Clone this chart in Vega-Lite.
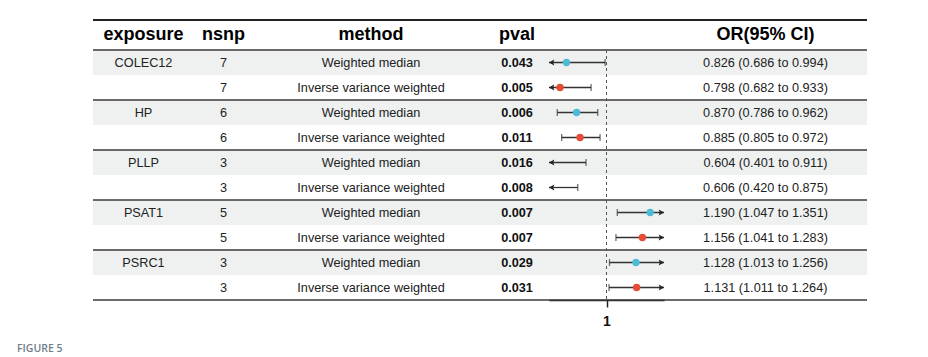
{
  "$schema": "https://vega.github.io/schema/vega-lite/v6.json",
  "background": "white",
  "padding": {"left": 17, "top": 19, "right": 0, "bottom": 0},
  "config": {"view": {"stroke": null}, "font": "Liberation Sans"},
  "title": {"text": "FIGURE 5", "orient": "bottom", "anchor": "start", "dx": -75, "offset": 16, "font": "Open Sans", "fontSize": 10.5, "fontWeight": 600, "color": "#6f7c8a"},
  "datasets": {
    "mr": [
      {"row": 1, "exposure": "COLEC12", "nsnp": 7, "method": "Weighted median", "pval": "0.043", "or": 0.826, "lo": 0.686, "hi": 0.994, "ci": "0.826 (0.686 to 0.994)"},
      {"row": 2, "exposure": "COLEC12", "nsnp": 7, "method": "Inverse variance weighted", "pval": "0.005", "or": 0.798, "lo": 0.682, "hi": 0.933, "ci": "0.798 (0.682 to 0.933)"},
      {"row": 3, "exposure": "HP", "nsnp": 6, "method": "Weighted median", "pval": "0.006", "or": 0.870, "lo": 0.786, "hi": 0.962, "ci": "0.870 (0.786 to 0.962)"},
      {"row": 4, "exposure": "HP", "nsnp": 6, "method": "Inverse variance weighted", "pval": "0.011", "or": 0.885, "lo": 0.805, "hi": 0.972, "ci": "0.885 (0.805 to 0.972)"},
      {"row": 5, "exposure": "PLLP", "nsnp": 3, "method": "Weighted median", "pval": "0.016", "or": 0.604, "lo": 0.401, "hi": 0.911, "ci": "0.604 (0.401 to 0.911)"},
      {"row": 6, "exposure": "PLLP", "nsnp": 3, "method": "Inverse variance weighted", "pval": "0.008", "or": 0.606, "lo": 0.420, "hi": 0.875, "ci": "0.606 (0.420 to 0.875)"},
      {"row": 7, "exposure": "PSAT1", "nsnp": 5, "method": "Weighted median", "pval": "0.007", "or": 1.190, "lo": 1.047, "hi": 1.351, "ci": "1.190 (1.047 to 1.351)"},
      {"row": 8, "exposure": "PSAT1", "nsnp": 5, "method": "Inverse variance weighted", "pval": "0.007", "or": 1.156, "lo": 1.041, "hi": 1.283, "ci": "1.156 (1.041 to 1.283)"},
      {"row": 9, "exposure": "PSRC1", "nsnp": 3, "method": "Weighted median", "pval": "0.029", "or": 1.128, "lo": 1.013, "hi": 1.256, "ci": "1.128 (1.013 to 1.256)"},
      {"row": 10, "exposure": "PSRC1", "nsnp": 3, "method": "Inverse variance weighted", "pval": "0.031", "or": 1.131, "lo": 1.011, "hi": 1.264, "ci": "1.131 (1.011 to 1.264)"}
    ]
  },
  "columns": 6,
  "spacing": 0,
  "align": "each",
  "bounds": "flush",
  "concat": [
    {"width": 101, "height": 30, "data": {"values": [{"h": "exposure"}]}, "layer": [
      {"mark": {"type": "text", "fontSize": 18, "fontWeight": "bold", "color": "#000"}, "encoding": {"text": {"field": "h"}}},
      {"mark": {"type": "rule", "color": "#222", "strokeWidth": 2}, "encoding": {"y": {"datum": 1, "type": "quantitative", "scale": {"domain": [0, 1]}, "axis": null}}}
    ]},
    {"width": 59, "height": 30, "data": {"values": [{"h": "nsnp"}]}, "layer": [
      {"mark": {"type": "text", "fontSize": 18, "fontWeight": "bold", "color": "#000"}, "encoding": {"text": {"field": "h"}}},
      {"mark": {"type": "rule", "color": "#222", "strokeWidth": 2}, "encoding": {"y": {"datum": 1, "type": "quantitative", "scale": {"domain": [0, 1]}, "axis": null}}}
    ]},
    {"width": 236, "height": 30, "data": {"values": [{"h": "method"}]}, "layer": [
      {"mark": {"type": "text", "fontSize": 18, "fontWeight": "bold", "color": "#000"}, "encoding": {"text": {"field": "h"}}},
      {"mark": {"type": "rule", "color": "#222", "strokeWidth": 2}, "encoding": {"y": {"datum": 1, "type": "quantitative", "scale": {"domain": [0, 1]}, "axis": null}}}
    ]},
    {"width": 60, "height": 30, "data": {"values": [{"h": "pval"}]}, "layer": [
      {"mark": {"type": "text", "fontSize": 18, "fontWeight": "bold", "color": "#000", "dx": -2}, "encoding": {"text": {"field": "h"}}},
      {"mark": {"type": "rule", "color": "#222", "strokeWidth": 2}, "encoding": {"y": {"datum": 1, "type": "quantitative", "scale": {"domain": [0, 1]}, "axis": null}}}
    ]},
    {"width": 115, "height": 30, "data": {"values": [{"h": ""}]}, "layer": [
      {"mark": {"type": "rule", "color": "#222", "strokeWidth": 2}, "encoding": {"y": {"datum": 1, "type": "quantitative", "scale": {"domain": [0, 1]}, "axis": null}}}
    ]},
    {"width": 203, "height": 30, "data": {"values": [{"h": "OR(95% CI)"}]}, "layer": [
      {"mark": {"type": "text", "fontSize": 18, "fontWeight": "bold", "color": "#000"}, "encoding": {"text": {"field": "h"}}},
      {"mark": {"type": "rule", "color": "#222", "strokeWidth": 2}, "encoding": {"y": {"datum": 1, "type": "quantitative", "scale": {"domain": [0, 1]}, "axis": null}}}
    ]},
    {"width": 101, "height": 250, "data": {"name": "mr"},
     "encoding": {"y": {"field": "row", "type": "ordinal", "scale": {"domain": [1,2,3,4,5,6,7,8,9,10], "paddingInner": 0, "paddingOuter": 0}, "axis": null}},
     "layer": [
      {"transform": [{"filter": "datum.method === 'Weighted median'"}], "mark": {"type": "rect", "color": "#eef1f0"}},
      {"transform": [{"filter": "datum.method === 'Weighted median'"}], "mark": {"type": "text", "fontSize": 12.7, "color": "#222"}, "encoding": {"text": {"field": "exposure"}}},
      {"transform": [{"filter": "datum.method === 'Weighted median'"}], "mark": {"type": "rule", "color": "#3a3a3a", "strokeWidth": 1.5}, "encoding": {"y": {"field": "row", "type": "ordinal", "bandPosition": 0}}},
      {"transform": [{"filter": "datum.row === 10"}], "mark": {"type": "rule", "color": "#3a3a3a", "strokeWidth": 1.5}, "encoding": {"y": {"field": "row", "type": "ordinal", "bandPosition": 1}}}
     ]},
    {"width": 59, "height": 250, "data": {"name": "mr"},
     "encoding": {"y": {"field": "row", "type": "ordinal", "scale": {"domain": [1,2,3,4,5,6,7,8,9,10], "paddingInner": 0, "paddingOuter": 0}, "axis": null}},
     "layer": [
      {"transform": [{"filter": "datum.method === 'Weighted median'"}], "mark": {"type": "rect", "color": "#eef1f0"}},
      {"mark": {"type": "text", "fontSize": 12.7, "color": "#222"}, "encoding": {"text": {"field": "nsnp"}}},
      {"transform": [{"filter": "datum.method === 'Weighted median'"}], "mark": {"type": "rule", "color": "#3a3a3a", "strokeWidth": 1.5}, "encoding": {"y": {"field": "row", "type": "ordinal", "bandPosition": 0}}},
      {"transform": [{"filter": "datum.row === 10"}], "mark": {"type": "rule", "color": "#3a3a3a", "strokeWidth": 1.5}, "encoding": {"y": {"field": "row", "type": "ordinal", "bandPosition": 1}}}
     ]},
    {"width": 236, "height": 250, "data": {"name": "mr"},
     "encoding": {"y": {"field": "row", "type": "ordinal", "scale": {"domain": [1,2,3,4,5,6,7,8,9,10], "paddingInner": 0, "paddingOuter": 0}, "axis": null}},
     "layer": [
      {"transform": [{"filter": "datum.method === 'Weighted median'"}], "mark": {"type": "rect", "color": "#eef1f0"}},
      {"mark": {"type": "text", "fontSize": 12.7, "color": "#222"}, "encoding": {"text": {"field": "method"}}},
      {"transform": [{"filter": "datum.method === 'Weighted median'"}], "mark": {"type": "rule", "color": "#3a3a3a", "strokeWidth": 1.5}, "encoding": {"y": {"field": "row", "type": "ordinal", "bandPosition": 0}}},
      {"transform": [{"filter": "datum.row === 10"}], "mark": {"type": "rule", "color": "#3a3a3a", "strokeWidth": 1.5}, "encoding": {"y": {"field": "row", "type": "ordinal", "bandPosition": 1}}}
     ]},
    {"width": 60, "height": 250, "data": {"name": "mr"},
     "encoding": {"y": {"field": "row", "type": "ordinal", "scale": {"domain": [1,2,3,4,5,6,7,8,9,10], "paddingInner": 0, "paddingOuter": 0}, "axis": null}},
     "layer": [
      {"transform": [{"filter": "datum.method === 'Weighted median'"}], "mark": {"type": "rect", "color": "#eef1f0"}},
      {"mark": {"type": "text", "fontSize": 12.7, "fontWeight": "bold", "color": "#111", "dx": -2}, "encoding": {"text": {"field": "pval"}}},
      {"transform": [{"filter": "datum.method === 'Weighted median'"}], "mark": {"type": "rule", "color": "#3a3a3a", "strokeWidth": 1.5}, "encoding": {"y": {"field": "row", "type": "ordinal", "bandPosition": 0}}},
      {"transform": [{"filter": "datum.row === 10"}], "mark": {"type": "rule", "color": "#3a3a3a", "strokeWidth": 1.5}, "encoding": {"y": {"field": "row", "type": "ordinal", "bandPosition": 1}}}
     ]},
    {"width": 115, "height": 250, "data": {"name": "mr"},
     "layer": [
      {"transform": [{"filter": "datum.method === 'Weighted median'"}], "mark": {"type": "rect", "color": "#eef1f0"},
       "encoding": {"y": {"field": "row", "type": "ordinal", "scale": {"domain": [1,2,3,4,5,6,7,8,9,10], "paddingInner": 0, "paddingOuter": 0}, "axis": null}}},
      {"transform": [{"filter": "datum.method === 'Weighted median'"}], "mark": {"type": "rule", "color": "#3a3a3a", "strokeWidth": 1.5}, "encoding": {"y": {"field": "row", "type": "ordinal", "bandPosition": 0}}},
      {"transform": [{"filter": "datum.row === 10"}], "mark": {"type": "rule", "color": "#3a3a3a", "strokeWidth": 1.5}, "encoding": {"y": {"field": "row", "type": "ordinal", "bandPosition": 1}}},
      {"transform": [{"filter": "datum.row === 1"}], "mark": {"type": "rule", "color": "#555", "strokeWidth": 1, "strokeDash": [3, 3]},
       "encoding": {"x": {"datum": 1, "type": "quantitative", "scale": {"domain": [0.75, 1.25], "clamp": true, "nice": false, "zero": false},
         "axis": {"values": [1], "format": "d", "title": null, "grid": false, "domainColor": "#222", "domainWidth": 1.6, "tickColor": "#222", "tickWidth": 1.5, "tickSize": 7, "labelFontSize": 14, "labelFontWeight": "bold", "labelColor": "#111", "labelPadding": 7, "labelFont": "Liberation Sans"}}}},
      {"mark": {"type": "rule", "color": "#333", "strokeWidth": 1.3},
       "encoding": {"y": {"field": "row", "type": "ordinal"}, "x": {"field": "lo", "type": "quantitative"}, "x2": {"field": "hi"}}},
      {"transform": [{"filter": "datum.lo >= 0.75"}], "mark": {"type": "tick", "color": "#333", "size": 7, "thickness": 1.3},
       "encoding": {"y": {"field": "row", "type": "ordinal"}, "x": {"field": "lo", "type": "quantitative"}}},
      {"transform": [{"filter": "datum.hi <= 1.25"}], "mark": {"type": "tick", "color": "#333", "size": 7, "thickness": 1.3},
       "encoding": {"y": {"field": "row", "type": "ordinal"}, "x": {"field": "hi", "type": "quantitative"}}},
      {"transform": [{"filter": "datum.lo < 0.75"}], "mark": {"type": "point", "shape": "M0,0L2,-1.1L1.6,0L2,1.1Z", "filled": true, "color": "#222", "size": 28, "opacity": 1},
       "encoding": {"y": {"field": "row", "type": "ordinal"}, "x": {"field": "lo", "type": "quantitative"}}},
      {"transform": [{"filter": "datum.hi > 1.25"}], "mark": {"type": "point", "shape": "M0,0L-2,-1.1L-1.6,0L-2,1.1Z", "filled": true, "color": "#222", "size": 28, "opacity": 1},
       "encoding": {"y": {"field": "row", "type": "ordinal"}, "x": {"field": "hi", "type": "quantitative"}}},
      {"transform": [{"filter": "datum.or >= 0.75 && datum.or <= 1.25"}], "mark": {"type": "circle", "size": 55, "opacity": 1},
       "encoding": {"y": {"field": "row", "type": "ordinal"}, "x": {"field": "or", "type": "quantitative"},
         "color": {"field": "method", "type": "nominal", "scale": {"domain": ["Weighted median", "Inverse variance weighted"], "range": ["#4DBBD5", "#E64B35"]}, "legend": null}}}
     ]},
    {"width": 203, "height": 250, "data": {"name": "mr"},
     "encoding": {"y": {"field": "row", "type": "ordinal", "scale": {"domain": [1,2,3,4,5,6,7,8,9,10], "paddingInner": 0, "paddingOuter": 0}, "axis": null}},
     "layer": [
      {"transform": [{"filter": "datum.method === 'Weighted median'"}], "mark": {"type": "rect", "color": "#eef1f0"}},
      {"mark": {"type": "text", "fontSize": 12.7, "color": "#222"}, "encoding": {"text": {"field": "ci"}}},
      {"transform": [{"filter": "datum.method === 'Weighted median'"}], "mark": {"type": "rule", "color": "#3a3a3a", "strokeWidth": 1.5}, "encoding": {"y": {"field": "row", "type": "ordinal", "bandPosition": 0}}},
      {"transform": [{"filter": "datum.row === 10"}], "mark": {"type": "rule", "color": "#3a3a3a", "strokeWidth": 1.5}, "encoding": {"y": {"field": "row", "type": "ordinal", "bandPosition": 1}}}
     ]}
  ]
}
